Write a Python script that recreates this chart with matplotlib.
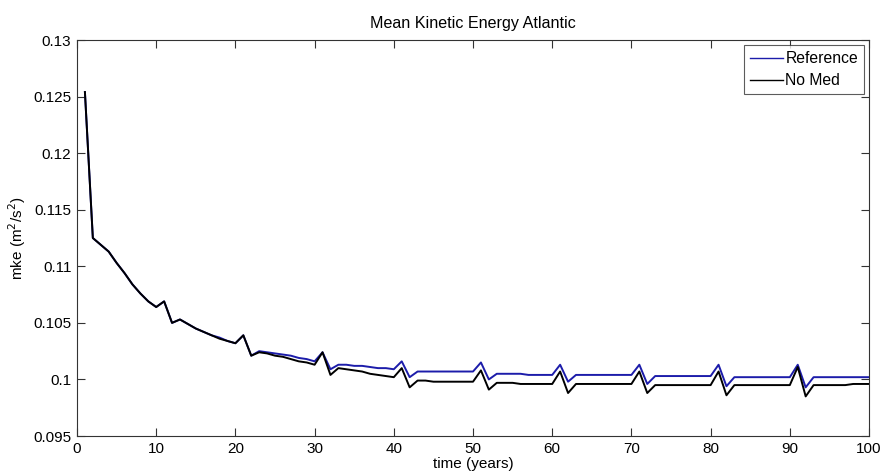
import numpy as np
import matplotlib.pyplot as plt

plt.rcParams['font.family'] = ['Liberation Sans', 'DejaVu Sans']

# years 1..100 (annual means)
years = np.arange(1, 101)

ref_mke = [
    0.1254, 0.1125, 0.1119, 0.1113, 0.1103, 0.1094, 0.1084, 0.1076, 0.1069, 0.1064,
    0.1069, 0.1050, 0.1053, 0.1049, 0.1045, 0.1042, 0.1039, 0.1037, 0.1034, 0.1032,
    0.1039, 0.1021, 0.1025, 0.1024, 0.1023, 0.1022, 0.1021, 0.1019, 0.1018, 0.1016,
    0.1024, 0.1009, 0.1013, 0.1013, 0.1012, 0.1012, 0.1011, 0.1010, 0.1010, 0.1009,
    0.1016, 0.1002, 0.1007, 0.1007, 0.1007, 0.1007, 0.1007, 0.1007, 0.1007, 0.1007,
    0.1015, 0.1000, 0.1005, 0.1005, 0.1005, 0.1005, 0.1004, 0.1004, 0.1004, 0.1004,
    0.1013, 0.0998, 0.1004, 0.1004, 0.1004, 0.1004, 0.1004, 0.1004, 0.1004, 0.1004,
    0.1013, 0.0996, 0.1003, 0.1003, 0.1003, 0.1003, 0.1003, 0.1003, 0.1003, 0.1003,
    0.1013, 0.0994, 0.1002, 0.1002, 0.1002, 0.1002, 0.1002, 0.1002, 0.1002, 0.1002,
    0.1013, 0.0993, 0.1002, 0.1002, 0.1002, 0.1002, 0.1002, 0.1002, 0.1002, 0.1002,
]

nomed_mke = [
    0.1254, 0.1125, 0.1119, 0.1113, 0.1103, 0.1094, 0.1084, 0.1076, 0.1069, 0.1064,
    0.1069, 0.1050, 0.1053, 0.1049, 0.1045, 0.1042, 0.1039, 0.1036, 0.1034, 0.1032,
    0.1039, 0.1021, 0.1024, 0.1023, 0.1021, 0.1020, 0.1018, 0.1016, 0.1015, 0.1013,
    0.1024, 0.1004, 0.1010, 0.1009, 0.1008, 0.1007, 0.1005, 0.1004, 0.1003, 0.1002,
    0.1010, 0.0993, 0.0999, 0.0999, 0.0998, 0.0998, 0.0998, 0.0998, 0.0998, 0.0998,
    0.1008, 0.0991, 0.0997, 0.0997, 0.0997, 0.0996, 0.0996, 0.0996, 0.0996, 0.0996,
    0.1007, 0.0988, 0.0996, 0.0996, 0.0996, 0.0996, 0.0996, 0.0996, 0.0996, 0.0996,
    0.1007, 0.0988, 0.0995, 0.0995, 0.0995, 0.0995, 0.0995, 0.0995, 0.0995, 0.0995,
    0.1007, 0.0986, 0.0995, 0.0995, 0.0995, 0.0995, 0.0995, 0.0995, 0.0995, 0.0995,
    0.1011, 0.0985, 0.0995, 0.0995, 0.0995, 0.0995, 0.0995, 0.0996, 0.0996, 0.0996,
]

fig = plt.figure(figsize=(8.82, 4.73), dpi=100)
ax = fig.add_axes([0.0873, 0.0782, 0.8980, 0.8372])

ax.plot(years, ref_mke, color='#1c1caa', lw=1.4, label='Reference')
ax.plot(years, nomed_mke, color='black', lw=1.4, label='No Med')

ax.set_xlim(0, 100)
ax.set_ylim(0.095, 0.13)
ax.set_xticks(np.arange(0, 101, 10))
ax.set_yticks([0.095, 0.1, 0.105, 0.11, 0.115, 0.12, 0.125, 0.13])
ax.set_yticklabels(['0.095', '0.1', '0.105', '0.11', '0.115', '0.12', '0.125', '0.13'])
ax.tick_params(direction='in', top=True, right=True, length=6, width=0.8,
               colors='#333333', labelcolor='black', labelsize=11, pad=4)
for s in ax.spines.values():
    s.set_color('#333333')
    s.set_linewidth(0.8)

ax.set_xlabel('time (years)', fontsize=11, labelpad=1)
ax.set_ylabel('mke (m$^2$/s$^2$)', fontsize=11, labelpad=4)
ax.set_title('Mean Kinetic Energy Atlantic', fontsize=11.6, pad=9)

leg = ax.legend(loc='upper right', fontsize=11.3, frameon=True, fancybox=False,
                borderaxespad=0.3, handlelength=2.1, handletextpad=0.15,
                borderpad=0.4, labelspacing=0.45)
leg.get_frame().set_edgecolor('#333333')
leg.get_frame().set_linewidth(0.8)
for h in leg.get_lines():
    h.set_linewidth(1.0)

plt.savefig('out.png', dpi=100)
